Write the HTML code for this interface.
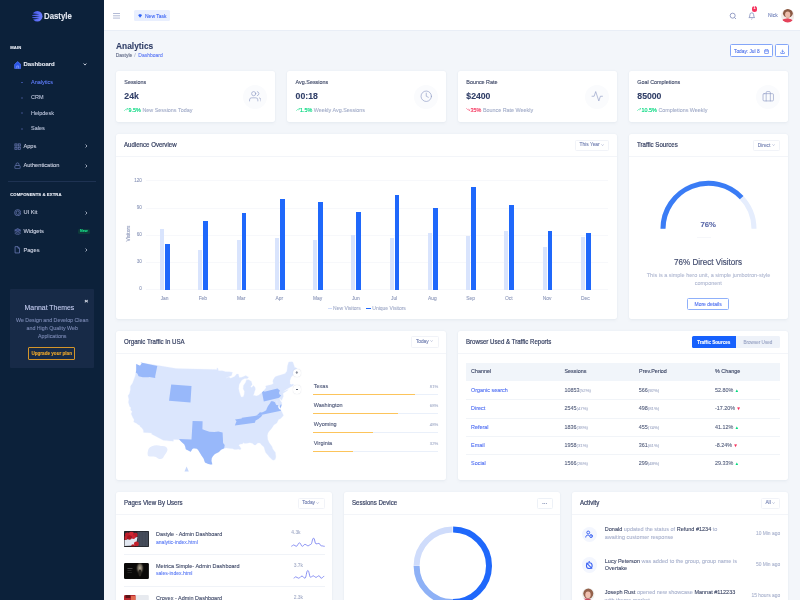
<!DOCTYPE html>
<html><head><meta charset="utf-8">
<style>
*{margin:0;padding:0;box-sizing:border-box}
html,body{width:800px;height:600px;overflow:hidden}
body{-webkit-font-smoothing:antialiased;background:#f3f6fa;font-family:"Liberation Sans",sans-serif;color:#303e67;position:relative}
.a{position:absolute;white-space:nowrap;line-height:normal;-webkit-text-stroke-width:0.1px}
#root{position:absolute;left:0;top:0;width:800px;height:600px;will-change:transform;filter:blur(0.22px)}
.card{position:absolute;background:#fff;border-radius:2px;box-shadow:0 0 1.2px rgba(160,175,205,.25),0 1.5px 3px rgba(120,130,160,.05)}
</style></head>
<body><div id="root">

<div class="a" style="left:0.00px;top:0.00px;width:104.00px;height:600.00px;background:#0c213a"></div>
<svg class="a" style="left:31.80px;top:10.50px;" width="11" height="11" viewBox="0 0 11 11">
<defs><linearGradient id="lg" x1="0" y1="0" x2="1" y2="0.3"><stop offset="0" stop-color="#4355e6"/><stop offset="1" stop-color="#6a7bff"/></linearGradient></defs>
<circle cx="5.3" cy="5.3" r="5.2" fill="url(#lg)"/>
<path d="M0,2.3 L7.4,3.3 L0,4.1Z M-0.2,4.7 L8,5.5 L-0.2,6.3Z M0,7.0 L7.4,7.6 L0,8.7Z" fill="#0c213a"/></svg>
<div class="a" style="left:44.20px;top:11.10px;font-size:8.7px;color:#e4e8f1;font-weight:700;transform:scaleX(0.9);transform-origin:0 0;">Dastyle</div>
<div class="a" style="left:10.20px;top:44.54px;font-size:4.2px;color:#e9edf6;font-weight:700;letter-spacing:0.1px">MAIN</div>
<svg class="a" style="left:13.60px;top:61.00px;" width="7.4" height="8" viewBox="0 0 24 26"><path d="M2 11 L12 2 L22 11 V24 H2Z" fill="#2a55e8" stroke="#5a7cff" stroke-width="2.2" stroke-linejoin="round"/><path d="M9 24V16h6v8" stroke="#9db3ff" stroke-width="2" fill="none"/></svg>
<div class="a" style="left:23.40px;top:61.08px;font-size:6.0px;color:#e6eaf3;font-weight:700;">Dashboard</div>
<svg class="a" style="left:83.00px;top:63.20px;" width="4" height="2.8" viewBox="0 0 8 6"><path d="M1 1 L4 4.5 L7 1" stroke="#e0e5ef" stroke-width="1.8" fill="none"/></svg>
<div class="a" style="left:21.30px;top:81.70px;width:1.80px;height:1.80px;border-radius:1px;background:#3f56a8"></div>
<div class="a" style="left:31.00px;top:79.04px;font-size:5.5px;color:#5f7dfb;font-weight:400;">Analytics</div>
<div class="a" style="left:21.30px;top:97.10px;width:1.80px;height:1.80px;border-radius:1px;background:#2e4170"></div>
<div class="a" style="left:31.00px;top:94.44px;font-size:5.5px;color:#b9c2d9;font-weight:400;">CRM</div>
<div class="a" style="left:21.30px;top:112.40px;width:1.80px;height:1.80px;border-radius:1px;background:#2e4170"></div>
<div class="a" style="left:31.00px;top:109.74px;font-size:5.5px;color:#b9c2d9;font-weight:400;">Helpdesk</div>
<div class="a" style="left:21.30px;top:127.90px;width:1.80px;height:1.80px;border-radius:1px;background:#2e4170"></div>
<div class="a" style="left:31.00px;top:125.24px;font-size:5.5px;color:#b9c2d9;font-weight:400;">Sales</div>
<svg class="a" style="left:13.60px;top:142.50px;" width="7.2" height="7.2" viewBox="0 0 24 24"><g fill="none" stroke="#6d7cb8" stroke-width="2.4"><rect x="3" y="3" width="7" height="7"/><rect x="14" y="3" width="7" height="7"/><rect x="14" y="14" width="7" height="7"/><rect x="3" y="14" width="7" height="7"/></g></svg>
<div class="a" style="left:23.40px;top:142.86px;font-size:5.7px;color:#cdd3e4;font-weight:400;-webkit-text-stroke:0.1px #cdd3e4;">Apps</div>
<svg class="a" style="left:84.80px;top:144.10px;" width="2.5" height="4" viewBox="0 0 5 8"><path d="M1 1 L4 4 L1 7" stroke="#c9d0e2" stroke-width="1.5" fill="none"/></svg>
<svg class="a" style="left:13.80px;top:161.80px;" width="7" height="7.6" viewBox="0 0 24 24"><g fill="none" stroke="#6d7cb8" stroke-width="2.4"><rect x="3" y="11" width="18" height="11" rx="2"/><path d="M7 11V7a5 5 0 0 1 10 0v4"/></g></svg>
<div class="a" style="left:23.40px;top:162.36px;font-size:5.7px;color:#cdd3e4;font-weight:400;-webkit-text-stroke:0.1px #cdd3e4;">Authentication</div>
<svg class="a" style="left:84.80px;top:163.60px;" width="2.5" height="4" viewBox="0 0 5 8"><path d="M1 1 L4 4 L1 7" stroke="#c9d0e2" stroke-width="1.5" fill="none"/></svg>
<div class="a" style="left:8.00px;top:180.70px;width:88.00px;height:0.60px;background:#1e3252"></div>
<div class="a" style="left:10.20px;top:191.54px;font-size:4.2px;color:#e9edf6;font-weight:700;letter-spacing:0.1px">COMPONENTS &amp; EXTRA</div>
<svg class="a" style="left:13.60px;top:208.90px;" width="7.4" height="7.4" viewBox="0 0 24 24"><g fill="none" stroke="#6d7cb8" stroke-width="2.3"><circle cx="12" cy="12" r="10"/><path d="M12 6 L17 9 V15 L12 18 L7 15 V9Z"/></g></svg>
<div class="a" style="left:23.40px;top:209.36px;font-size:5.7px;color:#cdd3e4;font-weight:400;-webkit-text-stroke:0.1px #cdd3e4;">UI Kit</div>
<svg class="a" style="left:84.80px;top:210.60px;" width="2.5" height="4" viewBox="0 0 5 8"><path d="M1 1 L4 4 L1 7" stroke="#c9d0e2" stroke-width="1.5" fill="none"/></svg>
<svg class="a" style="left:13.60px;top:227.50px;" width="7.4" height="7.4" viewBox="0 0 24 24"><g fill="#34467c" stroke="#6d7cb8" stroke-width="2"><path d="M12 2 L22 7 L12 12 L2 7Z"/><path d="M2 12 L12 17 L22 12" fill="none"/><path d="M2 17 L12 22 L22 17" fill="none"/></g></svg>
<div class="a" style="left:23.40px;top:227.96px;font-size:5.7px;color:#cdd3e4;font-weight:400;-webkit-text-stroke:0.1px #cdd3e4;">Widgets</div>
<div class="a" style="left:78px;top:228.7px;width:11.6px;height:5px;border-radius:1.5px;background:#0e3a3b;font-size:3.6px;font-weight:700;color:#18e08a;text-align:center;line-height:5px">New</div>
<svg class="a" style="left:14.00px;top:246.00px;" width="6.6" height="7.6" viewBox="0 0 20 24"><g fill="none" stroke="#6d7cb8" stroke-width="2.4"><path d="M12 2H3v20h14V7z"/><path d="M12 2v5h5"/></g></svg>
<div class="a" style="left:23.40px;top:246.56px;font-size:5.7px;color:#cdd3e4;font-weight:400;-webkit-text-stroke:0.1px #cdd3e4;">Pages</div>
<svg class="a" style="left:84.80px;top:247.80px;" width="2.5" height="4" viewBox="0 0 5 8"><path d="M1 1 L4 4 L1 7" stroke="#c9d0e2" stroke-width="1.5" fill="none"/></svg>
<div class="a" style="left:10.20px;top:288.80px;width:84.10px;height:79.10px;background:#172a47;border-radius:1px"></div>
<div class="a" style="left:84.60px;top:297.20px;font-size:6.2px;color:#e8ecf5;font-weight:700;">&#215;</div>
<div class="a" style="left:-50.60px;width:200px;top:303.55px;font-size:6.9px;color:#c3cbef;font-weight:400;text-align:center;">Mannat Themes</div>
<div class="a" style="left:-47.80px;width:200px;top:316.72px;font-size:5.3px;color:#7a88b3;font-weight:400;text-align:center;">We Design and Develop Clean</div>
<div class="a" style="left:-47.80px;width:200px;top:324.92px;font-size:5.3px;color:#7a88b3;font-weight:400;text-align:center;">and High Quality Web</div>
<div class="a" style="left:-47.80px;width:200px;top:333.12px;font-size:5.3px;color:#7a88b3;font-weight:400;text-align:center;">Applications</div>
<div class="a" style="left:28px;top:346.9px;width:47.4px;height:13.1px;border:0.8px solid #d4952a;border-radius:1px;font-size:4.6px;font-weight:700;color:#f0a92b;text-align:center;line-height:11.5px">Upgrade your plan</div>
<div class="a" style="left:104.00px;top:0.00px;width:696.00px;height:30.50px;background:#fff;border-bottom:0.6px solid #e9eef6"></div>
<svg class="a" style="left:113.00px;top:13.00px;" width="7.2" height="5.6" viewBox="0 0 14 11"><path d="M0 1H14M0 5.5H14M0 10H14" stroke="#8a97bf" stroke-width="1.3"/></svg>
<div class="a" style="left:134.20px;top:9.80px;width:35.40px;height:11.60px;background:#e9effe;border-radius:1.5px"></div>
<svg class="a" style="left:138.40px;top:13.90px;" width="4.2" height="4" viewBox="0 0 10 9"><path d="M0.5,2.6 L2.6,0.6 H7.4 L9.5,2.6 L5,8.6Z" fill="#2f62f5"/></svg>
<div class="a" style="left:145.00px;top:12.60px;font-size:5.0px;color:#3d66f4;font-weight:400;">New Task</div>
<svg class="a" style="left:729.20px;top:12.20px;" width="8" height="8" viewBox="0 0 24 24"><g fill="none" stroke="#7c88b8" stroke-width="2.4"><circle cx="11" cy="11" r="7.5"/><path d="M21 21l-4.3-4.3"/></g></svg>
<svg class="a" style="left:747.60px;top:11.60px;" width="7.6" height="8" viewBox="0 0 24 24"><g fill="none" stroke="#7c88b8" stroke-width="2.4"><path d="M18 8A6 6 0 0 0 6 8c0 7-3 9-3 9h18s-3-2-3-9"/><path d="M13.7 21a2 2 0 0 1-3.4 0"/></g></svg>
<div class="a" style="left:751.8px;top:6px;width:5.6px;height:5.6px;border-radius:50%;background:#f5325c;font-size:3.6px;font-weight:700;color:#fff;text-align:center;line-height:5.6px">1</div>
<div class="a" style="left:768.00px;top:12.40px;font-size:5.0px;color:#7081b9;font-weight:400;">Nick</div>
<svg class="a" style="left:780.90px;top:9.30px;" width="13.4" height="13.4" viewBox="0 0 13.4 13.4"><clipPath id="av"><circle cx="6.7" cy="6.7" r="6.7"/></clipPath>
<g clip-path="url(#av)"><rect width="13.4" height="13.4" fill="#f3ebe8"/><ellipse cx="6.9" cy="4.2" rx="4.9" ry="4.3" fill="#8b5a44"/><ellipse cx="6.7" cy="5.6" rx="2.6" ry="3.2" fill="#ebbcaa"/><rect x="5.6" y="8" width="2.2" height="2.4" fill="#e4b2a0"/><ellipse cx="6.2" cy="12.6" rx="5.6" ry="3.2" fill="#e5425a"/></g></svg>
<div class="a" style="left:115.60px;top:40.61px;font-size:8.9px;color:#303e67;font-weight:700;transform:scaleX(0.943);transform-origin:0 0;">Analytics</div>
<div class="a" style="left:115.70px;top:51.60px;font-size:5.0px;color:#5f6986;font-weight:400;">Dastyle</div>
<div class="a" style="left:134.30px;top:51.60px;font-size:5.0px;color:#a3acc6;font-weight:400;">/</div>
<div class="a" style="left:138.30px;top:51.60px;font-size:5.0px;color:#5b78f5;font-weight:400;">Dashboard</div>
<div class="a" style="left:730.00px;top:44.00px;width:42.80px;height:12.80px;border:0.7px solid #84a6f8;border-radius:1.5px;background:#fff"></div>
<div class="a" style="left:734.00px;top:48.88px;font-size:4.8px;color:#4f73ea;font-weight:400;">Today: Jul 8</div>
<svg class="a" style="left:763.90px;top:48.50px;" width="5" height="5" viewBox="0 0 24 24"><g fill="none" stroke="#3d6af0" stroke-width="3"><rect x="3" y="4" width="18" height="18" rx="2"/><path d="M3 10h18M8 2v4M16 2v4"/></g></svg>
<div class="a" style="left:775.20px;top:44.00px;width:13.60px;height:12.80px;border:0.7px solid #84a6f8;border-radius:1.5px;background:#fff"></div>
<svg class="a" style="left:779.50px;top:48.60px;" width="5.2" height="5.2" viewBox="0 0 24 24"><g fill="none" stroke="#3d6af0" stroke-width="3"><path d="M21 15v4a2 2 0 0 1-2 2H5a2 2 0 0 1-2-2v-4"/><path d="M7 10l5 5 5-5M12 15V3"/></g></svg>
<div class="card" style="left:116px;top:70.5px;width:159px;height:51.5px"></div>
<div class="a" style="left:124.30px;top:78.63px;font-size:5.4px;color:#3d4766;font-weight:400;-webkit-text-stroke:0.12px #3d4766;">Sessions</div>
<div class="a" style="left:124.30px;top:90.70px;font-size:8.7px;color:#303e67;font-weight:700;">24k</div>
<div class="a" style="left:124.30px;top:106.53px;font-size:5.4px;color:#a3adc9"><span style="color:#03d87f;-webkit-text-stroke:0.15px #03d87f"><svg width="4" height="3" viewBox="0 0 8 6" style="vertical-align:0.2px;margin-right:0.3px"><path d="M0.5 5.5 L3 3 L4.5 4.2 L7.5 0.8 M5 0.6 H7.6 V3.2" stroke="#03d87f" stroke-width="1" fill="none"/></svg>9.5%</span> New Sessions Today</div>
<div class="a" style="left:242.50px;top:84.5px;width:24.5px;height:24.5px;border-radius:50%;background:#fafbfd"></div>
<svg class="a" style="left:248.50px;top:90.40px;" width="12.5" height="12.5" viewBox="0 0 24 24"><g fill="none" stroke="#8e9bc5" stroke-width="1.25" stroke-linecap="round" stroke-linejoin="round"><path d="M17 21v-2a4 4 0 0 0-4-4H5a4 4 0 0 0-4 4v2"/><circle cx="9" cy="7" r="4"/><path d="M23 21v-2a4 4 0 0 0-3-3.87M16 3.13a4 4 0 0 1 0 7.75"/></g></svg>
<div class="card" style="left:287.3px;top:70.5px;width:159px;height:51.5px"></div>
<div class="a" style="left:295.60px;top:78.63px;font-size:5.4px;color:#3d4766;font-weight:400;-webkit-text-stroke:0.12px #3d4766;">Avg.Sessions</div>
<div class="a" style="left:295.60px;top:90.70px;font-size:8.7px;color:#303e67;font-weight:700;">00:18</div>
<div class="a" style="left:295.60px;top:106.53px;font-size:5.4px;color:#a3adc9"><span style="color:#03d87f;-webkit-text-stroke:0.15px #03d87f"><svg width="4" height="3" viewBox="0 0 8 6" style="vertical-align:0.2px;margin-right:0.3px"><path d="M0.5 5.5 L3 3 L4.5 4.2 L7.5 0.8 M5 0.6 H7.6 V3.2" stroke="#03d87f" stroke-width="1" fill="none"/></svg>1.5%</span> Weekly Avg.Sessions</div>
<div class="a" style="left:413.80px;top:84.5px;width:24.5px;height:24.5px;border-radius:50%;background:#fafbfd"></div>
<svg class="a" style="left:419.80px;top:90.40px;" width="12.5" height="12.5" viewBox="0 0 24 24"><g fill="none" stroke="#8e9bc5" stroke-width="1.25" stroke-linecap="round" stroke-linejoin="round"><circle cx="12" cy="12" r="10"/><path d="M12 6v6l4 2"/></g></svg>
<div class="card" style="left:458.0px;top:70.5px;width:159px;height:51.5px"></div>
<div class="a" style="left:466.30px;top:78.63px;font-size:5.4px;color:#3d4766;font-weight:400;-webkit-text-stroke:0.12px #3d4766;">Bounce Rate</div>
<div class="a" style="left:466.30px;top:90.70px;font-size:8.7px;color:#303e67;font-weight:700;">$2400</div>
<div class="a" style="left:466.30px;top:106.53px;font-size:5.4px;color:#a3adc9"><span style="color:#f5325c;-webkit-text-stroke:0.15px #f5325c"><svg width="4" height="3" viewBox="0 0 8 6" style="vertical-align:0.2px;margin-right:0.3px"><path d="M0.5 0.5 L3 3 L4.5 1.8 L7.5 5.2 M5 5.4 H7.6 V2.8" stroke="#f5325c" stroke-width="1" fill="none"/></svg>35%</span> Bounce Rate Weekly</div>
<div class="a" style="left:584.50px;top:84.5px;width:24.5px;height:24.5px;border-radius:50%;background:#fafbfd"></div>
<svg class="a" style="left:590.50px;top:90.40px;" width="12.5" height="12.5" viewBox="0 0 24 24"><g fill="none" stroke="#8e9bc5" stroke-width="1.25" stroke-linecap="round" stroke-linejoin="round"><path d="M22 12h-4l-3 9L9 3l-3 9H2"/></g></svg>
<div class="card" style="left:629.0px;top:70.5px;width:159px;height:51.5px"></div>
<div class="a" style="left:637.30px;top:78.63px;font-size:5.4px;color:#3d4766;font-weight:400;-webkit-text-stroke:0.12px #3d4766;">Goal Completions</div>
<div class="a" style="left:637.30px;top:90.70px;font-size:8.7px;color:#303e67;font-weight:700;">85000</div>
<div class="a" style="left:637.30px;top:106.53px;font-size:5.4px;color:#a3adc9"><span style="color:#03d87f;-webkit-text-stroke:0.15px #03d87f"><svg width="4" height="3" viewBox="0 0 8 6" style="vertical-align:0.2px;margin-right:0.3px"><path d="M0.5 5.5 L3 3 L4.5 4.2 L7.5 0.8 M5 0.6 H7.6 V3.2" stroke="#03d87f" stroke-width="1" fill="none"/></svg>10.5%</span> Completions Weekly</div>
<div class="a" style="left:755.50px;top:84.5px;width:24.5px;height:24.5px;border-radius:50%;background:#fafbfd"></div>
<svg class="a" style="left:761.50px;top:90.40px;" width="12.5" height="12.5" viewBox="0 0 24 24"><g fill="none" stroke="#8e9bc5" stroke-width="1.25" stroke-linecap="round" stroke-linejoin="round"><rect x="2" y="7" width="20" height="14" rx="2"/><path d="M16 21V5a2 2 0 0 0-2-2h-4a2 2 0 0 0-2 2v16"/></g></svg>
<div class="card" style="left:116px;top:134.2px;width:501px;height:185.3px"></div>
<div class="a" style="left:116.00px;top:156.40px;width:501.00px;height:0.70px;background:#f3f5f9"></div>
<div class="a" style="left:124.30px;top:141.21px;font-size:6.4px;color:#384263;font-weight:400;-webkit-text-stroke:0.2px #384263;transform:scaleX(0.955);transform-origin:0 0;">Audience Overview</div>
<div class="a" style="left:575px;top:139.6px;width:34px;height:11.4px;border:0.6px solid #f1f3f8;border-radius:1.5px"></div>
<div class="a" style="left:579.60px;top:142.28px;font-size:4.8px;color:#6f7db0;font-weight:400;">This Year <svg width="3.2" height="2" viewBox="0 0 6 4" style="vertical-align:0.5px"><path d="M0.6 0.6 L3 3.2 L5.4 0.6" stroke="#7886b5" stroke-width="0.8" fill="none"/></svg></div>
<div class="card" style="left:629px;top:134.2px;width:159px;height:185.3px"></div>
<div class="a" style="left:629.00px;top:156.40px;width:159.00px;height:0.70px;background:#f3f5f9"></div>
<div class="a" style="left:637.30px;top:141.21px;font-size:6.4px;color:#384263;font-weight:400;-webkit-text-stroke:0.2px #384263;transform:scaleX(0.955);transform-origin:0 0;">Traffic Sources</div>
<div class="a" style="left:753.2px;top:140px;width:27px;height:11.4px;border:0.6px solid #f1f3f8;border-radius:1.5px"></div>
<div class="a" style="left:757.80px;top:142.68px;font-size:4.8px;color:#6f7db0;font-weight:400;">Direct <svg width="3.2" height="2" viewBox="0 0 6 4" style="vertical-align:0.5px"><path d="M0.6 0.6 L3 3.2 L5.4 0.6" stroke="#7886b5" stroke-width="0.8" fill="none"/></svg></div>
<div class="card" style="left:116px;top:330.7px;width:330px;height:149.7px"></div>
<div class="a" style="left:116.00px;top:352.90px;width:330.00px;height:0.70px;background:#f3f5f9"></div>
<div class="a" style="left:124.30px;top:337.71px;font-size:6.4px;color:#384263;font-weight:400;-webkit-text-stroke:0.2px #384263;transform:scaleX(0.955);transform-origin:0 0;">Organic Traffic In USA</div>
<div class="a" style="left:411.3px;top:336.3px;width:27.5px;height:11.4px;border:0.6px solid #f1f3f8;border-radius:1.5px"></div>
<div class="a" style="left:415.90px;top:338.98px;font-size:4.8px;color:#6f7db0;font-weight:400;">Today <svg width="3.2" height="2" viewBox="0 0 6 4" style="vertical-align:0.5px"><path d="M0.6 0.6 L3 3.2 L5.4 0.6" stroke="#7886b5" stroke-width="0.8" fill="none"/></svg></div>
<div class="card" style="left:458px;top:330.7px;width:330px;height:149.7px"></div>
<div class="a" style="left:458.00px;top:352.90px;width:330.00px;height:0.70px;background:#f3f5f9"></div>
<div class="a" style="left:466.30px;top:337.71px;font-size:6.4px;color:#384263;font-weight:400;-webkit-text-stroke:0.2px #384263;transform:scaleX(0.955);transform-origin:0 0;">Browser Used &amp; Traffic Reports</div>
<div class="card" style="left:116px;top:491.6px;width:216px;height:120px"></div>
<div class="a" style="left:116.00px;top:513.80px;width:216.00px;height:0.70px;background:#f3f5f9"></div>
<div class="a" style="left:124.30px;top:498.61px;font-size:6.4px;color:#384263;font-weight:400;-webkit-text-stroke:0.2px #384263;transform:scaleX(0.955);transform-origin:0 0;">Pages View By Users</div>
<div class="a" style="left:297.6px;top:497.6px;width:27px;height:11.4px;border:0.6px solid #f1f3f8;border-radius:1.5px"></div>
<div class="a" style="left:302.20px;top:500.28px;font-size:4.8px;color:#6f7db0;font-weight:400;">Today <svg width="3.2" height="2" viewBox="0 0 6 4" style="vertical-align:0.5px"><path d="M0.6 0.6 L3 3.2 L5.4 0.6" stroke="#7886b5" stroke-width="0.8" fill="none"/></svg></div>
<div class="card" style="left:344px;top:491.6px;width:216px;height:120px"></div>
<div class="a" style="left:344.00px;top:513.80px;width:216.00px;height:0.70px;background:#f3f5f9"></div>
<div class="a" style="left:352.30px;top:498.61px;font-size:6.4px;color:#384263;font-weight:400;-webkit-text-stroke:0.2px #384263;transform:scaleX(0.955);transform-origin:0 0;">Sessions Device</div>
<div class="card" style="left:572px;top:491.6px;width:216px;height:120px"></div>
<div class="a" style="left:572.00px;top:513.80px;width:216.00px;height:0.70px;background:#f3f5f9"></div>
<div class="a" style="left:580.30px;top:498.61px;font-size:6.4px;color:#384263;font-weight:400;-webkit-text-stroke:0.2px #384263;transform:scaleX(0.955);transform-origin:0 0;">Activity</div>
<div class="a" style="left:760.8px;top:497.6px;width:18.8px;height:11.4px;border:0.6px solid #f1f3f8;border-radius:1.5px"></div>
<div class="a" style="left:765.40px;top:500.28px;font-size:4.8px;color:#6f7db0;font-weight:400;">All <svg width="3.2" height="2" viewBox="0 0 6 4" style="vertical-align:0.5px"><path d="M0.6 0.6 L3 3.2 L5.4 0.6" stroke="#7886b5" stroke-width="0.8" fill="none"/></svg></div>
<div class="a" style="left:146.00px;top:180.20px;width:462.00px;height:0.50px;background:#f7f8fb"></div>
<div class="a" style="right:658.10px;top:177.57px;font-size:4.6px;color:#8e99bb;font-weight:400;text-align:right;">120</div>
<div class="a" style="left:146.00px;top:207.70px;width:462.00px;height:0.50px;background:#f7f8fb"></div>
<div class="a" style="right:658.10px;top:205.07px;font-size:4.6px;color:#8e99bb;font-weight:400;text-align:right;">90</div>
<div class="a" style="left:146.00px;top:234.70px;width:462.00px;height:0.50px;background:#f7f8fb"></div>
<div class="a" style="right:658.10px;top:232.07px;font-size:4.6px;color:#8e99bb;font-weight:400;text-align:right;">60</div>
<div class="a" style="left:146.00px;top:261.60px;width:462.00px;height:0.50px;background:#f7f8fb"></div>
<div class="a" style="right:658.10px;top:258.97px;font-size:4.6px;color:#8e99bb;font-weight:400;text-align:right;">30</div>
<div class="a" style="left:146.00px;top:288.60px;width:462.00px;height:0.50px;background:#f7f8fb"></div>
<div class="a" style="right:658.10px;top:285.97px;font-size:4.6px;color:#8e99bb;font-weight:400;text-align:right;">0</div>
<div class="a" style="left:107.8px;top:231.3px;width:40px;text-align:center;font-size:4.9px;color:#8e99bb;transform:rotate(-90deg)">Visitors</div>
<div class="a" style="left:160.00px;top:228.70px;width:4.10px;height:60.90px;background:#d9e4fd"></div>
<div class="a" style="left:165.00px;top:244.00px;width:4.80px;height:45.60px;background:#1f68fb"></div>
<div class="a" style="left:64.60px;width:200px;top:296.39px;font-size:4.9px;color:#8e99bb;font-weight:400;text-align:center;">Jan</div>
<div class="a" style="left:198.25px;top:250.00px;width:4.10px;height:39.60px;background:#d9e4fd"></div>
<div class="a" style="left:203.25px;top:221.30px;width:4.80px;height:68.30px;background:#1f68fb"></div>
<div class="a" style="left:102.85px;width:200px;top:296.39px;font-size:4.9px;color:#8e99bb;font-weight:400;text-align:center;">Feb</div>
<div class="a" style="left:236.50px;top:240.00px;width:4.10px;height:49.60px;background:#d9e4fd"></div>
<div class="a" style="left:241.50px;top:213.30px;width:4.80px;height:76.30px;background:#1f68fb"></div>
<div class="a" style="left:141.10px;width:200px;top:296.39px;font-size:4.9px;color:#8e99bb;font-weight:400;text-align:center;">Mar</div>
<div class="a" style="left:274.75px;top:238.30px;width:4.10px;height:51.30px;background:#d9e4fd"></div>
<div class="a" style="left:279.75px;top:199.00px;width:4.80px;height:90.60px;background:#1f68fb"></div>
<div class="a" style="left:179.35px;width:200px;top:296.39px;font-size:4.9px;color:#8e99bb;font-weight:400;text-align:center;">Apr</div>
<div class="a" style="left:313.00px;top:240.00px;width:4.10px;height:49.60px;background:#d9e4fd"></div>
<div class="a" style="left:318.00px;top:201.50px;width:4.80px;height:88.10px;background:#1f68fb"></div>
<div class="a" style="left:217.60px;width:200px;top:296.39px;font-size:4.9px;color:#8e99bb;font-weight:400;text-align:center;">May</div>
<div class="a" style="left:351.25px;top:234.50px;width:4.10px;height:55.10px;background:#d9e4fd"></div>
<div class="a" style="left:356.25px;top:211.80px;width:4.80px;height:77.80px;background:#1f68fb"></div>
<div class="a" style="left:255.85px;width:200px;top:296.39px;font-size:4.9px;color:#8e99bb;font-weight:400;text-align:center;">Jun</div>
<div class="a" style="left:389.50px;top:237.50px;width:4.10px;height:52.10px;background:#d9e4fd"></div>
<div class="a" style="left:394.50px;top:195.30px;width:4.80px;height:94.30px;background:#1f68fb"></div>
<div class="a" style="left:294.10px;width:200px;top:296.39px;font-size:4.9px;color:#8e99bb;font-weight:400;text-align:center;">Jul</div>
<div class="a" style="left:427.75px;top:233.30px;width:4.10px;height:56.30px;background:#d9e4fd"></div>
<div class="a" style="left:432.75px;top:208.00px;width:4.80px;height:81.60px;background:#1f68fb"></div>
<div class="a" style="left:332.35px;width:200px;top:296.39px;font-size:4.9px;color:#8e99bb;font-weight:400;text-align:center;">Aug</div>
<div class="a" style="left:466.00px;top:235.80px;width:4.10px;height:53.80px;background:#d9e4fd"></div>
<div class="a" style="left:471.00px;top:187.00px;width:4.80px;height:102.60px;background:#1f68fb"></div>
<div class="a" style="left:370.60px;width:200px;top:296.39px;font-size:4.9px;color:#8e99bb;font-weight:400;text-align:center;">Sep</div>
<div class="a" style="left:504.25px;top:230.60px;width:4.10px;height:59.00px;background:#d9e4fd"></div>
<div class="a" style="left:509.25px;top:205.00px;width:4.80px;height:84.60px;background:#1f68fb"></div>
<div class="a" style="left:408.85px;width:200px;top:296.39px;font-size:4.9px;color:#8e99bb;font-weight:400;text-align:center;">Oct</div>
<div class="a" style="left:542.50px;top:246.50px;width:4.10px;height:43.10px;background:#d9e4fd"></div>
<div class="a" style="left:547.50px;top:231.30px;width:4.80px;height:58.30px;background:#1f68fb"></div>
<div class="a" style="left:447.10px;width:200px;top:296.39px;font-size:4.9px;color:#8e99bb;font-weight:400;text-align:center;">Nov</div>
<div class="a" style="left:580.75px;top:237.00px;width:4.10px;height:52.60px;background:#d9e4fd"></div>
<div class="a" style="left:585.75px;top:232.80px;width:4.80px;height:56.80px;background:#1f68fb"></div>
<div class="a" style="left:485.35px;width:200px;top:296.39px;font-size:4.9px;color:#8e99bb;font-weight:400;text-align:center;">Dec</div>
<div class="a" style="left:327.80px;top:308.20px;width:4.10px;height:1.20px;background:#cfdcfb"></div>
<div class="a" style="left:333.10px;top:305.40px;font-size:5.0px;color:#a2acc9;font-weight:400;">New Visitors</div>
<div class="a" style="left:365.60px;top:308.10px;width:5.00px;height:1.40px;background:#1f68fb"></div>
<div class="a" style="left:372.30px;top:305.40px;font-size:5.0px;color:#a2acc9;font-weight:400;">Unique Visitors</div>
<svg class="a" style="left:0;top:0" width="800" height="600"><path d="M663.00,228.80 A45.5,45.5 0 0 1 754.00,228.80" stroke="#e5edfd" stroke-width="5" fill="none"/><path d="M663.00,228.80 A45.5,45.5 0 0 1 741.67,197.65" stroke="#3a7cf5" stroke-width="5" fill="none"/></svg>
<div class="a" style="left:608.20px;width:200px;top:220.42px;font-size:7.8px;color:#5a68a8;font-weight:700;text-align:center;">76%</div>
<div class="a" style="left:697.00px;top:237.20px;width:14.00px;height:0.50px;background:#f6f7fa"></div>
<div class="a" style="left:608.30px;width:200px;top:257.46px;font-size:8.3px;color:#444e70;font-weight:400;text-align:center;-webkit-text-stroke:0.18px #444e70;transform:scaleX(0.97)">76% Direct Visitors</div>
<div class="a" style="left:608.50px;width:200px;top:271.84px;font-size:5.5px;color:#b0b8d1;font-weight:400;text-align:center;">This is a simple hero unit, a simple jumbotron-style</div>
<div class="a" style="left:608.30px;width:200px;top:279.74px;font-size:5.5px;color:#b0b8d1;font-weight:400;text-align:center;">component</div>
<div class="a" style="left:687.30px;top:298.10px;width:41.60px;height:12.30px;border:0.8px solid #8fb0fa;border-radius:1.5px"></div>
<div class="a" style="left:608.10px;width:200px;top:300.80px;font-size:5.0px;color:#4d6ff0;font-weight:400;text-align:center;">More details</div>
<svg class="a" style="left:0;top:0" width="800" height="600"><path d="M136.2,363.9 L140.0,365.7 L141.8,363.2 L140.6,362.5 L176.3,368.6 L216.9,369.5 L216.9,368.0 L217.9,368.3 L218.5,370.7 L222.4,370.8 L225.7,371.7 L229.1,371.8 L232.5,372.3 L231.6,375.6 L225.9,378.0 L228.9,377.1 L230.7,378.2 L234.6,376.5 L236.6,374.0 L238.3,374.0 L239.3,377.6 L241.8,377.2 L245.9,375.5 L247.2,376.4 L248.7,376.9 L247.5,378.4 L244.8,378.4 L241.9,380.1 L239.4,384.1 L239.0,385.8 L238.7,388.7 L239.4,391.9 L240.3,394.7 L241.2,397.1 L243.3,396.8 L244.2,394.2 L244.4,391.2 L243.2,388.9 L243.4,385.6 L245.4,382.8 L246.5,379.8 L248.8,379.8 L251.4,381.4 L252.2,384.6 L250.7,386.5 L251.5,387.6 L253.6,385.6 L255.1,387.4 L255.4,389.4 L254.6,391.6 L254.0,393.8 L253.3,395.2 L256.5,395.9 L258.9,395.0 L262.1,392.2 L263.9,390.6 L265.9,388.1 L266.0,387.2 L265.5,386.1 L268.4,385.2 L271.9,384.5 L273.5,383.3 L272.8,381.8 L273.0,380.0 L275.0,377.0 L276.3,376.2 L285.3,373.6 L286.1,372.1 L286.8,371.4 L287.2,368.8 L287.5,365.7 L288.7,362.1 L291.3,361.7 L292.9,362.1 L294.7,367.5 L295.9,367.5 L298.0,369.8 L295.8,372.7 L293.4,374.8 L291.1,377.3 L289.9,380.7 L290.1,382.4 L289.9,383.7 L291.4,384.5 L293.1,384.0 L293.6,385.1 L292.2,386.2 L290.5,386.9 L289.4,387.7 L286.6,389.2 L283.4,391.4 L288.3,389.5 L287.1,390.8 L283.2,393.2 L283.1,393.8 L283.4,396.3 L282.4,398.7 L281.7,400.5 L280.9,399.5 L279.3,398.3 L280.6,400.9 L281.8,402.5 L281.7,404.4 L281.1,406.7 L280.1,408.4 L279.4,406.7 L277.9,404.6 L276.9,401.9 L277.1,399.7 L276.7,402.3 L278.4,405.3 L279.3,409.3 L280.5,409.4 L282.0,412.0 L283.5,415.4 L282.2,417.0 L280.8,418.6 L278.6,419.6 L276.9,423.0 L273.9,424.9 L272.8,426.8 L271.2,429.1 L269.4,430.9 L268.0,432.9 L267.4,435.5 L267.8,439.6 L269.1,442.6 L272.0,446.6 L272.8,448.9 L275.4,452.5 L275.9,456.9 L275.2,459.5 L273.4,460.3 L272.2,459.8 L269.4,457.0 L267.4,454.5 L265.6,452.4 L264.8,450.1 L263.9,447.0 L261.8,445.3 L260.0,443.1 L257.8,442.9 L255.6,444.9 L254.1,444.9 L252.8,443.5 L249.9,442.7 L247.4,443.2 L244.6,443.6 L243.8,442.5 L242.8,443.8 L240.0,444.2 L238.7,445.3 L239.8,446.4 L241.1,448.8 L240.1,449.7 L237.9,449.1 L237.2,449.6 L234.3,449.5 L232.8,448.8 L229.9,448.5 L226.3,447.9 L224.2,448.3 L221.0,449.7 L220.3,450.4 L218.9,451.9 L214.9,454.1 L212.8,456.2 L211.7,458.3 L211.4,461.1 L212.3,464.2 L211.0,464.6 L208.4,463.9 L205.0,462.5 L203.6,458.5 L201.5,455.6 L199.7,452.4 L198.3,450.3 L197.0,448.8 L193.8,448.2 L192.3,449.0 L190.7,451.8 L188.3,450.5 L185.8,449.2 L185.3,446.7 L184.4,444.6 L181.1,441.6 L179.5,439.8 L173.6,439.4 L173.4,441.3 L163.3,440.3 L151.3,433.9 L151.8,433.1 L143.5,432.4 L143.3,430.1 L141.7,427.7 L140.2,426.8 L140.1,425.7 L137.9,424.6 L136.8,423.4 L133.7,422.1 L134.1,419.8 L132.5,416.9 L131.2,414.1 L131.4,412.9 L132.2,411.8 L130.6,410.1 L130.9,407.6 L129.6,406.5 L128.4,402.3 L128.9,399.4 L128.0,395.8 L129.5,393.6 L130.4,389.6 L130.4,386.2 L132.6,382.9 L135.2,375.9 L135.8,372.6 L136.2,370.2 L136.2,363.9Z" fill="#dbe6fd" stroke="#e6eefe" stroke-width="0.3"/><path d="M136.2,363.9 L140.0,365.7 L141.8,363.2 L140.6,362.5 L157.3,366.0 L155.2,376.3 L155.2,378.0 L149.4,377.0 L148.4,377.2 L144.9,377.3 L142.8,377.3 L138.6,376.3 L137.3,373.4 L135.8,372.6 L136.2,370.2Z" fill="#98b8fa"/><path d="M171.2,384.5 L191.5,386.0 L190.5,402.4 L169.0,400.8Z" fill="#98b8fa"/><path d="M179.2,439.0 L191.5,439.6 L192.6,421.0 L202.6,421.2 L202.4,429.2 L205.7,430.6 L209.5,431.8 L214.2,432.0 L218.3,431.4 L222.6,432.6 L223.1,443.0 L224.7,445.0 L224.2,448.3 L221.0,449.7 L220.3,450.4 L218.9,451.9 L214.9,454.1 L212.8,456.2 L211.7,458.3 L211.4,461.1 L212.3,464.2 L211.0,464.6 L208.4,463.9 L205.0,462.5 L203.6,458.5 L201.5,455.6 L199.7,452.4 L198.3,450.3 L197.0,448.8 L193.8,448.2 L192.3,449.0 L190.7,451.8 L188.3,450.5 L185.8,449.2 L185.3,446.7 L184.4,444.6 L181.1,441.6 L179.5,439.8Z" fill="#98b8fa"/><path d="M235.0,419.4 L241.7,418.6 L241.8,417.8 L262.5,414.8 L261.0,416.9 L259.8,417.8 L258.4,419.1 L255.6,420.6 L254.9,422.8 L234.9,425.6 L235.4,423.9 L236.5,421.3Z" fill="#98b8fa"/><path d="M256.0,416.0 L281.0,410.7 L280.4,409.4 L279.3,409.3 L277.8,407.1 L278.4,405.3 L276.3,405.0 L275.8,404.2 L275.0,402.3 L273.5,401.4 L272.5,401.2 L270.9,401.2 L270.7,402.1 L269.5,404.0 L268.0,406.1 L266.8,408.4 L266.2,410.2 L264.1,411.5 L261.9,412.4 L259.9,412.3 L258.8,413.4Z" fill="#98b8fa"/><path d="M281.7,404.4 L281.1,406.7 L280.1,408.4 L279.9,406.6 L280.4,404.8Z" fill="#98b8fa"/><path d="M262.0,392.2 L263.8,401.4 L278.3,398.0 L279.4,397.4 L280.2,396.5 L281.2,395.4 L279.6,394.4 L279.0,393.1 L279.1,392.4 L279.9,390.5 L277.4,388.6 L264.3,391.8 L264.1,390.7 L262.0,392.2Z" fill="#98b8fa"/><path d="M148.5,449 C151,445 157,444.5 161,446 C165,445.5 167.5,447 167.5,450 C167,453 164,455 163,458 C161,460 158,459 156,457 C153,456 150,457 148,456 C147,453 148,451 148.5,449Z" fill="#e3ebfd"/><path d="M184.5,471.5 L186.6,466.5 L188.8,471.5Z" fill="#c6d7fb"/></svg>
<div class="a" style="left:292.6px;top:368.8px;width:8.6px;height:8.6px;border-radius:50%;background:#fff;box-shadow:0 0 1px rgba(120,130,160,.35)"></div>
<div class="a" style="left:292.6px;top:385.2px;width:8.6px;height:8.6px;border-radius:50%;background:#fff;box-shadow:0 0 1px rgba(120,130,160,.35)"></div>
<div class="a" style="left:295.40px;top:369.97px;font-size:4.6px;color:#5c6477;font-weight:700;">+</div>
<div class="a" style="left:295.60px;top:389.30px;width:2.60px;height:0.70px;background:#5c6477"></div>
<div class="a" style="left:313.80px;top:382.74px;font-size:5.5px;color:#4a5475;font-weight:400;">Texas</div>
<div class="a" style="right:361.80px;top:383.54px;font-size:4.2px;color:#a7b0cb;font-weight:400;text-align:right;">81%</div>
<div class="a" style="left:313.30px;top:393.80px;width:125.00px;height:1.00px;background:#eaf0fa"></div>
<div class="a" style="left:313.30px;top:393.80px;width:101.25px;height:1.00px;background:#fcc45b"></div>
<div class="a" style="left:313.80px;top:401.94px;font-size:5.5px;color:#4a5475;font-weight:400;">Washington</div>
<div class="a" style="right:361.80px;top:402.74px;font-size:4.2px;color:#a7b0cb;font-weight:400;text-align:right;">68%</div>
<div class="a" style="left:313.30px;top:412.80px;width:125.00px;height:1.00px;background:#eaf0fa"></div>
<div class="a" style="left:313.30px;top:412.80px;width:85.00px;height:1.00px;background:#fcc45b"></div>
<div class="a" style="left:313.80px;top:421.04px;font-size:5.5px;color:#4a5475;font-weight:400;">Wyoming</div>
<div class="a" style="right:361.80px;top:421.84px;font-size:4.2px;color:#a7b0cb;font-weight:400;text-align:right;">48%</div>
<div class="a" style="left:313.30px;top:432.00px;width:125.00px;height:1.00px;background:#eaf0fa"></div>
<div class="a" style="left:313.30px;top:432.00px;width:60.00px;height:1.00px;background:#fcc45b"></div>
<div class="a" style="left:313.80px;top:440.24px;font-size:5.5px;color:#4a5475;font-weight:400;">Virginia</div>
<div class="a" style="right:361.80px;top:441.04px;font-size:4.2px;color:#a7b0cb;font-weight:400;text-align:right;">32%</div>
<div class="a" style="left:313.30px;top:451.20px;width:125.00px;height:1.00px;background:#eaf0fa"></div>
<div class="a" style="left:313.30px;top:451.20px;width:40.00px;height:1.00px;background:#fcc45b"></div>
<div class="a" style="left:691.60px;top:335.70px;width:44.40px;height:12.30px;background:#1761fd;border-radius:1.5px 0 0 1.5px"></div>
<div class="a" style="left:613.80px;width:200px;top:339.67px;font-size:4.6px;color:#fff;font-weight:700;text-align:center;">Traffic Sources</div>
<div class="a" style="left:736.00px;top:335.70px;width:43.80px;height:12.30px;background:#eef2f9;border-radius:0 1.5px 1.5px 0"></div>
<div class="a" style="left:657.90px;width:200px;top:339.67px;font-size:4.6px;color:#98a3c4;font-weight:400;text-align:center;">Browser Used</div>
<div class="a" style="left:465.50px;top:363.10px;width:314.30px;height:18.00px;background:#f1f5fa"></div>
<div class="a" style="left:471.10px;top:367.93px;font-size:5.4px;color:#3d4766;font-weight:400;-webkit-text-stroke:0.12px #3d4766;">Channel</div>
<div class="a" style="left:564.50px;top:367.93px;font-size:5.4px;color:#3d4766;font-weight:400;-webkit-text-stroke:0.12px #3d4766;">Sessions</div>
<div class="a" style="left:639.10px;top:367.93px;font-size:5.4px;color:#3d4766;font-weight:400;-webkit-text-stroke:0.12px #3d4766;">Prev.Period</div>
<div class="a" style="left:715.00px;top:367.93px;font-size:5.4px;color:#3d4766;font-weight:400;-webkit-text-stroke:0.12px #3d4766;">% Change</div>
<div class="a" style="left:471.10px;top:386.93px;font-size:5.4px;color:#4f6ef2;font-weight:400;">Organic search</div>
<div class="a" style="left:564.5px;top:386.93px;font-size:5.4px;color:#555f7d">10853<span style="font-size:4.3px;color:#a4adc8">(52%)</span></div>
<div class="a" style="left:638.8px;top:386.93px;font-size:5.4px;color:#555f7d">566<span style="font-size:4.3px;color:#a4adc8">(92%)</span></div>
<div class="a" style="left:715px;top:386.93px;font-size:5.4px;color:#555f7d">52.80% <span style="font-size:4.2px;color:#03d87f">&#9650;</span></div>
<div class="a" style="left:471.10px;top:405.23px;font-size:5.4px;color:#4f6ef2;font-weight:400;">Direct</div>
<div class="a" style="left:564.5px;top:405.23px;font-size:5.4px;color:#555f7d">2545<span style="font-size:4.3px;color:#a4adc8">(47%)</span></div>
<div class="a" style="left:638.8px;top:405.23px;font-size:5.4px;color:#555f7d">498<span style="font-size:4.3px;color:#a4adc8">(81%)</span></div>
<div class="a" style="left:715px;top:405.23px;font-size:5.4px;color:#555f7d">-17.20% <span style="font-size:4.2px;color:#f5325c">&#9660;</span></div>
<div class="a" style="left:471.10px;top:423.53px;font-size:5.4px;color:#4f6ef2;font-weight:400;">Referal</div>
<div class="a" style="left:564.5px;top:423.53px;font-size:5.4px;color:#555f7d">1836<span style="font-size:4.3px;color:#a4adc8">(38%)</span></div>
<div class="a" style="left:638.8px;top:423.53px;font-size:5.4px;color:#555f7d">455<span style="font-size:4.3px;color:#a4adc8">(74%)</span></div>
<div class="a" style="left:715px;top:423.53px;font-size:5.4px;color:#555f7d">41.12% <span style="font-size:4.2px;color:#03d87f">&#9650;</span></div>
<div class="a" style="left:471.10px;top:441.93px;font-size:5.4px;color:#4f6ef2;font-weight:400;">Email</div>
<div class="a" style="left:564.5px;top:441.93px;font-size:5.4px;color:#555f7d">1958<span style="font-size:4.3px;color:#a4adc8">(31%)</span></div>
<div class="a" style="left:638.8px;top:441.93px;font-size:5.4px;color:#555f7d">361<span style="font-size:4.3px;color:#a4adc8">(61%)</span></div>
<div class="a" style="left:715px;top:441.93px;font-size:5.4px;color:#555f7d">-8.24% <span style="font-size:4.2px;color:#f5325c">&#9660;</span></div>
<div class="a" style="left:471.10px;top:460.23px;font-size:5.4px;color:#4f6ef2;font-weight:400;">Social</div>
<div class="a" style="left:564.5px;top:460.23px;font-size:5.4px;color:#555f7d">1566<span style="font-size:4.3px;color:#a4adc8">(26%)</span></div>
<div class="a" style="left:638.8px;top:460.23px;font-size:5.4px;color:#555f7d">299<span style="font-size:4.3px;color:#a4adc8">(49%)</span></div>
<div class="a" style="left:715px;top:460.23px;font-size:5.4px;color:#555f7d">29.33% <span style="font-size:4.2px;color:#03d87f">&#9650;</span></div>
<div class="a" style="left:465.50px;top:399.40px;width:314.30px;height:0.50px;background:#f1f4f8"></div>
<div class="a" style="left:465.50px;top:417.60px;width:314.30px;height:0.50px;background:#f1f4f8"></div>
<div class="a" style="left:465.50px;top:436.10px;width:314.30px;height:0.50px;background:#f1f4f8"></div>
<div class="a" style="left:465.50px;top:454.40px;width:314.30px;height:0.50px;background:#f1f4f8"></div>
<svg class="a" style="left:124.00px;top:530.80px;" width="24.9" height="16" viewBox="0 0 50 32"><clipPath id="th1"><rect width="50" height="32" rx="2.5"/></clipPath><g clip-path="url(#th1)"><rect width="50" height="32" fill="#2c2c34"/><rect x="27" width="23" height="32" fill="#454c5a"/><path d="M31 0v32M37 0v32M43 0v32" stroke="#3f4553" stroke-width="1"/><path d="M0 18 L27 12 L24 29 L0 30Z" fill="#e2e8f1"/><circle cx="7" cy="8" r="5" fill="#c01e2c"/><circle cx="15" cy="6" r="5" fill="#d02633"/><circle cx="23" cy="8" r="4.5" fill="#b81b28"/><circle cx="11" cy="13" r="4.5" fill="#a8141f"/><circle cx="3" cy="14" r="4" fill="#c42431"/><circle cx="19" cy="12" r="4" fill="#cc2230"/><circle cx="25" cy="26" r="5" fill="#c41f2b"/><circle cx="18" cy="30" r="3.5" fill="#b01c27"/><rect width="50" height="32" fill="none" stroke="#111" stroke-width="2" rx="2.5"/></g></svg>
<div class="a" style="left:156.00px;top:531.49px;font-size:5.45px;color:#3d4766;font-weight:400;">Dastyle - Admin Dashboard</div>
<div class="a" style="left:156.00px;top:538.65px;font-size:5.05px;color:#5b7bf5;font-weight:400;">analytic-index.html</div>
<div class="a" style="left:291.30px;top:530.49px;font-size:4.9px;color:#a5aec9;font-weight:400;">4.3k</div>
<svg class="a" style="left:0;top:0" width="800" height="600"><path d="M291.3,546.3 C292.50,546.3 292.50,544.9 293.7,544.9 C294.95,544.9 294.95,546.3 296.2,546.3 C297.85,546.3 297.85,542.9 299.5,542.9 C300.95,542.9 300.95,546.3 302.4,546.3 C303.65,546.3 303.65,544.4 304.9,544.4 C306.55,544.4 306.55,545.8 308.2,545.8 C309.45,545.8 309.45,544.4 310.7,544.4 C312.15,544.4 312.15,538.1 313.6,538.1 C314.80,538.1 314.80,543.9 316,543.9 C317.45,543.9 317.45,543.4 318.9,543.4 C320.10,543.4 320.10,545.8 321.3,545.8 C323.00,545.8 323.00,546.3 324.7,546.3" stroke="#7d86f2" stroke-width="0.9" fill="none"/><path d="M293.7,578.2 C294.70,578.2 294.70,576.8 295.7,576.8 C297.15,576.8 297.15,578.2 298.6,578.2 C300.30,578.2 300.30,576.1 302,576.1 C303.45,576.1 303.45,578.2 304.9,578.2 C306.35,578.2 306.35,570.5 307.8,570.5 C309.25,570.5 309.25,577.3 310.7,577.3 C311.90,577.3 311.90,575.8 313.1,575.8 C314.55,575.8 314.55,577.3 316,577.3 C317.45,577.3 317.45,575.8 318.9,575.8 C320.10,575.8 320.10,578.2 321.3,578.2 C322.75,578.2 322.75,576.3 324.2,576.3" stroke="#7d86f2" stroke-width="0.9" fill="none"/></svg>
<div class="a" style="left:124.00px;top:554.40px;width:200.50px;height:0.50px;background:#f0f3f8"></div>
<svg class="a" style="left:124.20px;top:562.80px;" width="24.9" height="16" viewBox="0 0 50 32"><defs><radialGradient id="rg2" cx="0.5" cy="0.4" r="0.5"><stop offset="0" stop-color="#b7ad98"/><stop offset="0.5" stop-color="#6a6456"/><stop offset="1" stop-color="#0a0908" stop-opacity="0"/></radialGradient></defs><rect width="50" height="32" rx="2.5" fill="#0a0908"/><ellipse cx="32" cy="13" rx="9" ry="14" fill="url(#rg2)"/><ellipse cx="32" cy="20" rx="3" ry="7" fill="#2a2620"/><rect x="7" y="11" width="10" height="1" fill="#8a8a8a"/><rect x="7" y="14.5" width="8" height="0.8" fill="#555"/><rect x="7" y="18" width="9" height="0.8" fill="#444"/></svg>
<div class="a" style="left:156.00px;top:563.29px;font-size:5.5px;color:#3d4766;font-weight:400;">Metrica Simple- Admin Dashboard</div>
<div class="a" style="left:156.00px;top:570.45px;font-size:5.05px;color:#5b7bf5;font-weight:400;">sales-index.html</div>
<div class="a" style="left:293.70px;top:562.59px;font-size:4.9px;color:#a5aec9;font-weight:400;">3.7k</div>
<div class="a" style="left:124.00px;top:586.40px;width:200.50px;height:0.50px;background:#f0f3f8"></div>
<svg class="a" style="left:124.20px;top:594.60px;" width="24.9" height="16" viewBox="0 0 50 32"><clipPath id="th3"><rect width="50" height="32" rx="2.5"/></clipPath><g clip-path="url(#th3)"><rect width="50" height="32" fill="#e7eaef"/><rect width="23" height="32" fill="#b8262c"/><rect x="3" y="0" width="10" height="6" fill="#5a1215"/><rect x="14" y="2" width="9" height="9" fill="#e2684f"/></g></svg>
<div class="a" style="left:156.00px;top:595.14px;font-size:5.5px;color:#3d4766;font-weight:400;">Crovex - Admin Dashboard</div>
<div class="a" style="left:293.70px;top:594.69px;font-size:4.9px;color:#a5aec9;font-weight:400;">2.3k</div>
<svg class="a" style="left:0;top:0" width="800" height="600"><path d="M453.12,529.60 A36.2,36.2 0 0 1 452.48,602.00" stroke="#1f68fb" stroke-width="6" fill="none"/><path d="M452.17,601.99 A36.2,36.2 0 0 1 416.60,566.05" stroke="#8eb1f6" stroke-width="6" fill="none"/><path d="M416.60,565.67 A36.2,36.2 0 0 1 452.55,529.60" stroke="#cfdcfb" stroke-width="6" fill="none"/></svg>
<div class="a" style="left:537px;top:497.6px;width:15.5px;height:11.4px;border:0.6px solid #edf1f7;border-radius:1.5px"></div>
<div class="a" style="left:444.80px;width:200px;top:499.60px;font-size:5px;color:#8f9abb;font-weight:700;text-align:center;">&#183;&#183;&#183;</div>
<div class="a" style="left:581.85px;top:526.85px;width:15.5px;height:15.5px;border-radius:50%;background:#f3f6fe"></div>
<svg class="a" style="left:585.20px;top:530.40px;" width="8.6" height="8.6" viewBox="0 0 24 24"><g fill="none" stroke="#3b62f2" stroke-width="2.7"><circle cx="9" cy="7" r="4"/><path d="M2 21v-1a6 6 0 0 1 9-5"/><circle cx="17" cy="17" r="4"/><path d="M17 15v2h2"/></g></svg>
<div class="a" style="left:581.85px;top:557.25px;width:15.5px;height:15.5px;border-radius:50%;background:#f3f6fe"></div>
<svg class="a" style="left:585.20px;top:560.80px;" width="8.6" height="8.6" viewBox="0 0 24 24"><g fill="none" stroke="#3b62f2" stroke-width="2.9"><circle cx="12" cy="13" r="8"/><path d="M10 2h4M4 5l16 16"/></g></svg>
<svg class="a" style="left:582.30px;top:588.30px;" width="12.6" height="12.6" viewBox="0 0 12.6 12.6"><clipPath id="av2"><circle cx="6.3" cy="6.3" r="6.3"/></clipPath><g clip-path="url(#av2)"><rect width="12.6" height="12.6" fill="#eef0ee"/><ellipse cx="6.3" cy="5.6" rx="5" ry="5.2" fill="#94624c"/><ellipse cx="6" cy="6.8" rx="2.7" ry="3.4" fill="#efc1b0"/><ellipse cx="4.5" cy="13" rx="5" ry="2.6" fill="#c9475e"/></g></svg>
<div class="a" style="left:604.8px;top:526.04px;font-size:5.5px;color:#a9b2cd"><span style="color:#3d4766">Donald</span> updated the status of <span style="color:#3d4766">Refund #1234</span> to</div>
<div class="a" style="left:604.80px;top:534.04px;font-size:5.5px;color:#a9b2cd;font-weight:400;">awaiting customer response</div>
<div class="a" style="right:19.90px;top:530.69px;font-size:4.9px;color:#a9b2cd;font-weight:400;text-align:right;">10 Min ago</div>
<div class="a" style="left:604.8px;top:557.54px;font-size:5.5px;color:#a9b2cd"><span style="color:#3d4766">Lucy Peterson</span> was added to the group, group name is<span style="color:#3d4766"></span></div>
<div class="a" style="left:604.80px;top:565.19px;font-size:5.5px;color:#3d4766;font-weight:400;">Overtake</div>
<div class="a" style="right:19.90px;top:561.59px;font-size:4.9px;color:#a9b2cd;font-weight:400;text-align:right;">50 Min ago</div>
<div class="a" style="left:604.8px;top:588.69px;font-size:5.5px;color:#a9b2cd"><span style="color:#3d4766">Joseph Rust</span> opened new showcase <span style="color:#3d4766">Mannat #112233</span></div>
<div class="a" style="left:604.80px;top:596.54px;font-size:5.5px;color:#a9b2cd;font-weight:400;">with theme market</div>
<div class="a" style="right:19.90px;top:592.79px;font-size:4.9px;color:#a9b2cd;font-weight:400;text-align:right;">15 hours ago</div>
</div></body></html>
